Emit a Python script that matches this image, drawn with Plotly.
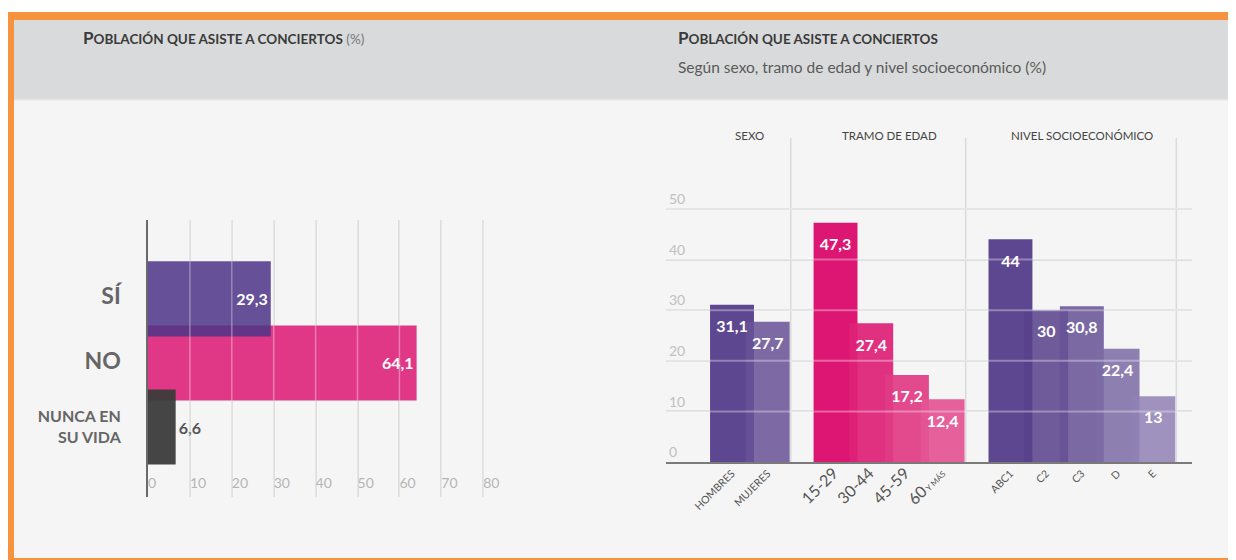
import plotly.graph_objects as go

# ---------------- data ----------------
left_categories = ["SÍ", "NO", "NUNCA EN SU VIDA"]
left_values = [29.3, 64.1, 6.6]
left_ticks = [0, 10, 20, 30, 40, 50, 60, 70, 80]

groups = ["SEXO", "TRAMO DE EDAD", "NIVEL SOCIOECONÓMICO"]
sexo_labels = ["HOMBRES", "MUJERES"]
sexo_values = [31.1, 27.7]
edad_labels = ["15-29", "30-44", "45-59", "60 Y MÁS"]
edad_values = [47.3, 27.4, 17.2, 12.4]
nse_labels = ["ABC1", "C2", "C3", "D", "E"]
nse_values = [44, 30, 30.8, 22.4, 13]
right_ticks = [0, 10, 20, 30, 40, 50]

# ---------------- styling ----------------
PAGE_W, PAGE_H = 1236, 560
OFF = 8  # page body margin
W, H = PAGE_W - OFF, PAGE_H - OFF
BG = (245, 245, 245)
FONT = "Lato"


def px(x):
    return min(1.0, max(0.0, (x - OFF) / W))


def py(y):
    return max(0.0, min(1.0, 1 - (y - OFF) / H))


def hex2rgb(h):
    h = h.lstrip("#")
    return tuple(int(h[i:i + 2], 16) for i in (0, 2, 4))


def see_through(hexcol, alpha, bg=BG):
    o = hex2rgb(hexcol)
    c = [max(0, min(255, round((o[i] - (1 - alpha) * bg[i]) / alpha))) for i in range(3)]
    return f"rgba({c[0]},{c[1]},{c[2]},{alpha})"


def fmt(v):
    return f"{v:g}".replace(".", ",")


left_colors = {"SÍ": see_through("#654f96", 0.86), "NO": "#e03886", "NUNCA EN SU VIDA": see_through("#444444", 0.95)}
left_draw_order = [1, 0, 2]

purple_seq = ["#5e4690", "#6e5a9a", "#7b68a3", "#8e7eb0", "#9e91bd"]
pink_seq = ["#dc1472", "#e0307f", "#e2488c", "#e55f9c"]
group_colors = [
    [see_through(c, 0.86) for c in ["#5e4690", "#7d6aa4"]],
    [see_through(c, 0.93) for c in pink_seq],
    [see_through(c, 0.86) for c in purple_seq],
]

fig = go.Figure()

# ---------------- left chart ----------------
for i in left_draw_order:
    cat = left_categories[i]
    fig.add_trace(go.Bar(
        x=[left_values[i]], y=[i], orientation="h", width=1.17,
        marker=dict(color=left_colors[cat], line=dict(width=0)),
        text=[fmt(left_values[i])],
        textposition="inside" if left_values[i] > 15 else "outside",
        insidetextanchor="end",
        insidetextfont=dict(family=FONT, size=16, color="white", weight="bold"),
        outsidetextfont=dict(family=FONT, size=16, color="#555555", weight="bold"),
        cliponaxis=False, showlegend=False, hoverinfo="skip",
        xaxis="x", yaxis="y",
    ))


def left_ticklabel(lbl):
    if len(lbl) <= 3:
        return f"<span style='font-size:23px'><b>{lbl}</b></span>"
    words = lbl.split(" ")
    return "<b>" + " ".join(words[:2]) + "<br>" + " ".join(words[2:]) + "</b>"


# ---------------- right chart ----------------
all_labels, all_values, all_pos, all_colors = [], [], [], []
group_centers, group_ends = [], []
pos = 0.0
GAP = 1.9
BAR_W = 1.23
for gi, (labels, values) in enumerate([(sexo_labels, sexo_values), (edad_labels, edad_values), (nse_labels, nse_values)]):
    start = pos
    for j, (lab, val) in enumerate(zip(labels, values)):
        all_labels.append(lab)
        all_values.append(val)
        all_pos.append(pos)
        all_colors.append(group_colors[gi][j])
        pos += 1
    last = pos - 1
    group_centers.append((start + last) / 2)
    group_ends.append(last + BAR_W / 2 + 0.03)
    pos = last + GAP

fig.add_trace(go.Bar(
    x=all_pos, y=all_values, width=BAR_W,
    marker=dict(color=all_colors, line=dict(width=0)),
    showlegend=False, hoverinfo="skip", xaxis="x2", yaxis="y2",
))
fig.add_trace(go.Scatter(
    x=all_pos, y=[v - 4.6 for v in all_values], mode="text",
    text=[fmt(v) for v in all_values],
    textfont=dict(family=FONT, size=16, color="white", weight="bold"),
    showlegend=False, hoverinfo="skip", xaxis="x2", yaxis="y2",
))


def right_ticklabel(lbl):
    head, _, tail = lbl.partition(" ")
    if head[0].isdigit():
        s = f"<span style='font-size:16px'>{head}</span>"
        if tail:
            s += f"<span style='font-size:8px'> {tail}</span>"
        return s
    return f"<span style='font-size:10.5px'>{lbl}</span>"


# ---------------- frame shapes ----------------
shapes = [
    dict(type="rect", xref="paper", yref="paper", x0=px(7), x1=1.0, y0=0.0, y1=py(12),
         fillcolor="#f7933e", line=dict(width=0), layer="below"),
    dict(type="rect", xref="paper", yref="paper", x0=px(14), x1=1.0, y0=py(558), y1=py(20),
         fillcolor="#f5f5f5", line=dict(width=0), layer="below"),
    dict(type="rect", xref="paper", yref="paper", x0=px(14), x1=1.0, y0=py(100), y1=py(20),
         fillcolor="#d9dadb", line=dict(width=0), layer="below"),
    dict(type="line", xref="paper", yref="paper", x0=px(14), x1=1.0, y0=py(100), y1=py(100),
         line=dict(color="#e9e9e9", width=1.5), layer="below"),
]
# light gridlines crossing the bars (left chart)
for t in left_ticks[1:]:
    shapes.append(dict(type="line", xref="x", yref="y domain", x0=t, x1=t, y0=0, y1=1,
                       line=dict(color="rgba(255,255,255,0.35)", width=1.5), layer="above"))
# light gridlines crossing the bars (right chart)
for t in right_ticks[1:]:
    shapes.append(dict(type="line", xref="x2 domain", yref="y2", x0=0, x1=1, y0=t, y1=t,
                       line=dict(color="rgba(255,255,255,0.35)", width=2), layer="above"))
# group separators
for e in group_ends:
    shapes.append(dict(type="line", xref="x2", yref="y2 domain", x0=e, x1=e, y0=0, y1=1,
                       line=dict(color="#dadada", width=1.5), layer="below"))

annotations = [
    dict(xref="paper", yref="paper", x=px(81), y=py(37), xanchor="left", yanchor="middle", showarrow=False,
         text="<b><span style='font-size:17px'>P</span>OBLACIÓN QUE ASISTE A CONCIERTOS</b> <span style='color:#777777'>(%)</span>",
         font=dict(family=FONT, size=13.5, color="#3a3a3a")),
    dict(xref="paper", yref="paper", x=px(676), y=py(37), xanchor="left", yanchor="middle", showarrow=False,
         text="<b><span style='font-size:17px'>P</span>OBLACIÓN QUE ASISTE A CONCIERTOS</b>",
         font=dict(family=FONT, size=13.5, color="#3a3a3a")),
    dict(xref="paper", yref="paper", x=px(676), y=py(67), xanchor="left", yanchor="middle", showarrow=False,
         text="Según sexo, tramo de edad y nivel socioeconómico (%)",
         font=dict(family=FONT, size=15.5, color="#5a5a5a")),
]
for g, c in zip(groups, group_centers):
    annotations.append(dict(xref="x2", yref="paper", x=c, y=py(135), xanchor="center", yanchor="middle",
                            showarrow=False, text=g, font=dict(family=FONT, size=11.5, color="#444444")))

# plot areas in page pixels
L_X0, L_X1, L_Y0, L_Y1 = 148, 500, 220, 497
R_X0, R_X1, R_Y0, R_Y1 = 666, 1192, 138, 462

fig.update_layout(
    width=W, height=H,
    margin=dict(l=0, r=0, t=0, b=0),
    paper_bgcolor="white", plot_bgcolor="rgba(0,0,0,0)",
    barmode="overlay",
    font=dict(family=FONT, color="#555555"),
    shapes=shapes, annotations=annotations,
    xaxis=dict(domain=[px(L_X0), px(L_X1)], range=[0, 84], tickvals=left_ticks,
               ticktext=[str(t) for t in left_ticks], ticklabelposition="inside right",
               tickfont=dict(family=FONT, size=14, color="#b5b5b5"),
               showgrid=True, gridcolor="#d9d9d9", gridwidth=1.5, zeroline=False, showline=False,
               ticks="", fixedrange=True, anchor="y"),
    yaxis=dict(domain=[py(L_Y1), py(L_Y0)], range=[3.09, -1.23], tickvals=[0, 1, 2],
               ticktext=[left_ticklabel(c) for c in left_categories],
               tickfont=dict(family=FONT, size=16, color="#666666"),
               showgrid=False, zeroline=False, showline=True, linecolor="#6a6a6a", linewidth=2,
               ticks="", ticklabelstandoff=22, anchor="x"),
    xaxis2=dict(domain=[px(R_X0), px(R_X1)], range=[-1.849, 12.885], tickvals=all_pos,
                ticktext=[right_ticklabel(l) for l in all_labels], tickangle=-45,
                tickfont=dict(family=FONT, size=10, color="#555555"),
                showgrid=False, zeroline=False, showline=True, linecolor="#7a7a7a", linewidth=2,
                ticks="", anchor="y2"),
    yaxis2=dict(domain=[py(R_Y1), py(R_Y0)], range=[0, 64.03], tickvals=right_ticks,
                ticklabelposition="inside top", tickfont=dict(family=FONT, size=14, color="#c0c0c0"),
                showgrid=True, gridcolor="#d9d9d9", gridwidth=2, zeroline=False, showline=False,
                ticks="", anchor="x2"),
)

fig.write_html("out.html")
